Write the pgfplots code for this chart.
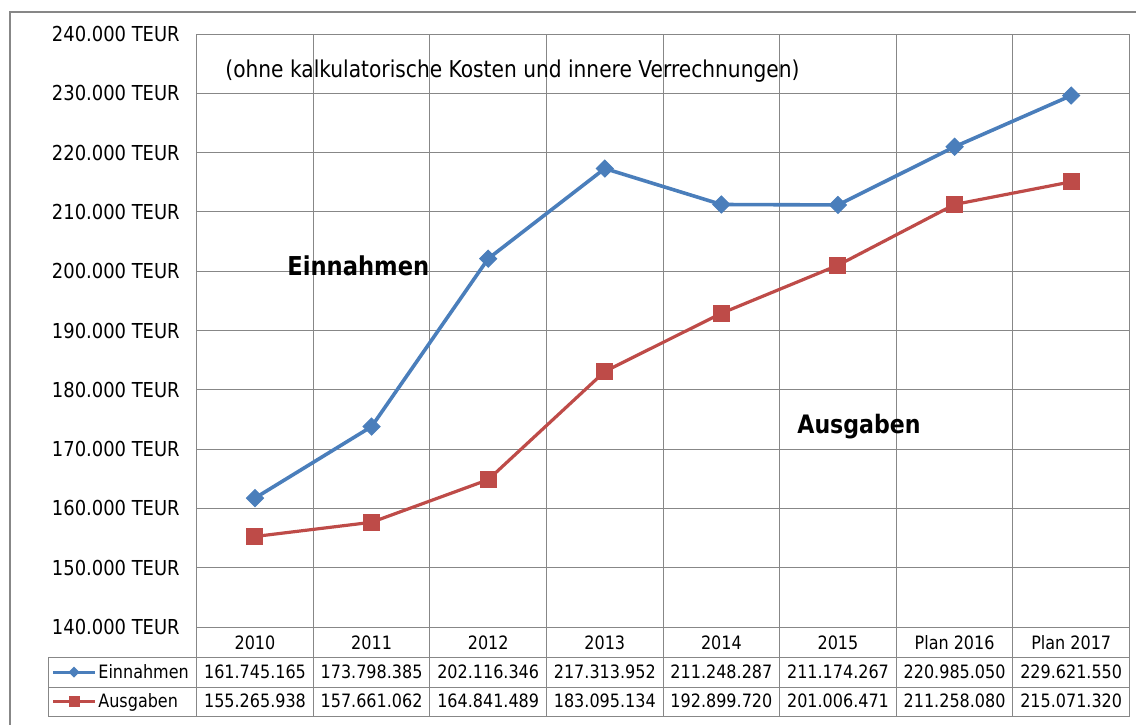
\documentclass[border=0pt]{standalone}
\usepackage{fontspec}
\setmainfont{DejaVu Sans}[FakeStretch=0.87]
\usepackage{pgfplots}
\pgfplotsset{compat=1.18}
\definecolor{eblue}{HTML}{4A7EBB}
\definecolor{ared}{HTML}{BE4B48}
\definecolor{gridgray}{HTML}{878787}
\pgfplotstableread{
x ein aus
0 161745.165 155265.938
1 173798.385 157661.062
2 202116.346 164841.489
3 217313.952 183095.134
4 211248.287 192899.720
5 211174.267 201006.471
6 220985.050 211258.080
7 229621.550 215071.320
}\datatable
\usepackage{pgfplotstable}
\begin{document}
\begin{tikzpicture}
\useasboundingbox (0,0) rectangle (568pt,-362pt);
\draw[gridgray, line width=1pt] (5pt,-400pt) -- (5pt,-6pt) -- (600pt,-6pt);
\begin{axis}[
  at={(98.35pt,-17pt)}, anchor=north west,
  scale only axis, width=466.4pt, height=296.5pt,
  xmin=-0.5, xmax=7.5, ymin=140000, ymax=240000,
  scaled y ticks=false,
  ytick={140000,150000,160000,170000,180000,190000,200000,210000,220000,230000,240000},
  yticklabels={140.000 TEUR,150.000 TEUR,160.000 TEUR,170.000 TEUR,180.000 TEUR,190.000 TEUR,200.000 TEUR,210.000 TEUR,220.000 TEUR,230.000 TEUR,240.000 TEUR},
  yticklabel style={font=\fontsize{10.3pt}{12pt}\selectfont, anchor=east, xshift=-5pt},
  xtick={-0.5,0.5,1.5,2.5,3.5,4.5,5.5,6.5,7.5}, xticklabels={},
  grid=major, major grid style={gridgray, line width=0.5pt},
  axis line style={gridgray, line width=0.5pt},
  tick style={draw=none},
  clip=false,
]
\addplot[eblue, line width=1.8pt, mark=square*, mark size=3pt,
  mark options={rotate=45, fill=eblue, draw=eblue, line width=0.5pt}] table[x=x, y=ein] {\datatable};
\addplot[ared, line width=1.6pt, mark=square*, mark size=4pt,
  mark options={fill=ared, draw=ared, line width=0.5pt}] table[x=x, y=aus] {\datatable};
\end{axis}
\begin{scope}[x=0.5pt, y=-0.5pt]
  % texts
  \node[anchor=base west, inner sep=0pt, font=\fontsize{11.6pt}{14pt}\selectfont] at (225,77) {(ohne kalkulatorische Kosten und innere Verrechnungen)};
  \node[anchor=base west, inner sep=0pt, font=\fontsize{13pt}{16pt}\selectfont\bfseries] at (287,275) {Einnahmen};
  \node[anchor=base west, inner sep=0pt, font=\fontsize{12.7pt}{16pt}\selectfont\bfseries] at (797,433) {Ausgaben};
  % table lines
  \foreach \yy in {657,687,716} { \draw[gridgray, line width=0.5pt] (48,\yy) -- (1129.5,\yy); }
  \draw[gridgray, line width=0.5pt] (48,657) -- (48,716);
  \foreach \k in {0,...,8} { \draw[gridgray, line width=0.5pt] ({196.7+\k*116.6},627) -- ({196.7+\k*116.6},716); }
  % years
  \foreach \lab [count=\k from 0] in {2010,2011,2012,2013,2014,2015,Plan 2016,Plan 2017} {
    \node[anchor=base, inner sep=0pt, font=\fontsize{9.2pt}{11pt}\selectfont] at ({196.7+(\k+0.5)*116.6},649) {\lab};
  }
  \foreach \lab [count=\k from 0] in {161.745.165,173.798.385,202.116.346,217.313.952,211.248.287,211.174.267,220.985.050,229.621.550} {
    \node[anchor=base, inner sep=0pt, font=\fontsize{9.2pt}{11pt}\selectfont] at ({196.7+(\k+0.5)*116.6},678) {\lab};
  }
  \foreach \lab [count=\k from 0] in {155.265.938,157.661.062,164.841.489,183.095.134,192.899.720,201.006.471,211.258.080,215.071.320} {
    \node[anchor=base, inner sep=0pt, font=\fontsize{9.2pt}{11pt}\selectfont] at ({196.7+(\k+0.5)*116.6},707) {\lab};
  }
  % legend keys
  \draw[eblue, line width=1.5pt] (53,672) -- (95,672);
  \fill[eblue] (74,666.5) -- (79.5,672) -- (74,677.5) -- (68.5,672) -- cycle;
  \draw[ared, line width=1.5pt] (53,701) -- (95,701);
  \fill[ared] (68.5,695.5) rectangle (79.5,706.5);
  \node[anchor=base west, inner sep=0pt, font=\fontsize{9.2pt}{11pt}\selectfont] at (98,678) {Einnahmen};
  \node[anchor=base west, inner sep=0pt, font=\fontsize{9.2pt}{11pt}\selectfont] at (98,707) {Ausgaben};
\end{scope}
\end{tikzpicture}
\end{document}
